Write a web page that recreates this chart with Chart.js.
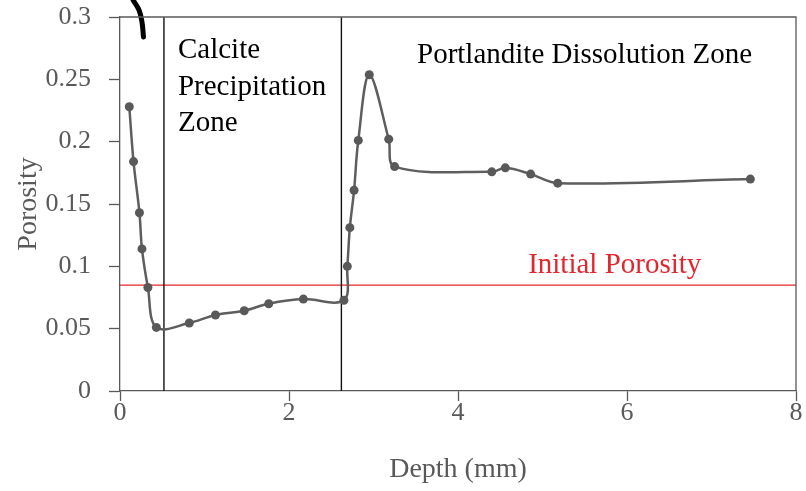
<!DOCTYPE html>
<html>
<head>
<meta charset="utf-8">
<script src="https://cdn.jsdelivr.net/npm/chart.js@4"></script>
<style>
  html, body { margin: 0; padding: 0; background: #fff; }
  #wrap { width: 806px; height: 491px; }
</style>
</head>
<body>
<div id="wrap"><canvas id="porosityChart"></canvas></div>
<script>
// Porosity profile
const depth = [0.11, 0.16, 0.23, 0.26, 0.33, 0.43, 0.82, 1.13, 1.47, 1.76, 2.17, 2.65,
               2.69, 2.72, 2.77, 2.82, 2.95, 3.18, 3.25, 4.40, 4.56, 4.86, 5.18, 7.46];
const porosity = [0.228, 0.184, 0.143, 0.114, 0.083, 0.051, 0.0545, 0.061, 0.0644, 0.070, 0.0737, 0.0727,
                  0.100, 0.131, 0.161, 0.201, 0.2537, 0.202, 0.180, 0.1758, 0.179, 0.174, 0.1667, 0.170];

const zoneBoundaries = [0.52, 2.62];
const initialPorosity = 0.085;

// hand-drawn stroke at the top left of the figure
const strokeX = [0.154, 0.225, 0.26, 0.278];
const strokeY = [0.3137, 0.3056, 0.296, 0.284];

const xTickLabels = ['0', '2', '4', '6', '8'];
const yTickLabels = ['0', '0.05', '0.1', '0.15', '0.2', '0.25', '0.3'];

const GREY = '#595959';
const FONT = '"Liberation Serif", "DejaVu Serif", serif';

const toPoints = (xs, ys) => xs.map((x, i) => ({x: x, y: ys[i]}));

const datasets = [];

datasets.push({
  label: 'Porosity',
  data: toPoints(depth, porosity),
  showLine: true,
  borderColor: '#5e5e5e',
  backgroundColor: GREY,
  borderWidth: 2.5,
  pointRadius: 4.5,
  pointBorderWidth: 0,
  tension: 0.35
});

zoneBoundaries.forEach(b => {
  datasets.push({
    label: 'zone',
    data: [{x: b, y: 0}, {x: b, y: 0.3}],
    showLine: true,
    borderColor: '#111',
    borderWidth: 1.4,
    pointRadius: 0
  });
});

datasets.push({
  label: 'Initial Porosity',
  data: [{x: 0, y: initialPorosity}, {x: 8, y: initialPorosity}],
  showLine: true,
  borderColor: '#e3262e',
  borderWidth: 1.3,
  pointRadius: 0
});

datasets.push({
  label: 'stroke',
  data: toPoints(strokeX, strokeY),
  showLine: true,
  borderColor: '#000',
  borderWidth: 5,
  borderCapStyle: 'round',
  pointRadius: 0,
  tension: 0.4,
  clip: false
});

// frame on top / right + zone captions
const decorations = {
  id: 'decorations',
  afterDatasetsDraw(chart) {
    const {ctx, chartArea: a, scales: {x, y}} = chart;
    ctx.save();
    ctx.strokeStyle = GREY;
    ctx.lineWidth = 1.3;
    ctx.beginPath();
    ctx.moveTo(a.left, a.top);
    ctx.lineTo(a.right, a.top);
    ctx.lineTo(a.right, a.bottom);
    ctx.stroke();

    ctx.font = '29px ' + FONT;
    ctx.textAlign = 'left';
    ctx.textBaseline = 'alphabetic';
    ctx.fillStyle = '#000';
    ['Calcite', 'Precipitation', 'Zone'].forEach((t, i) => {
      ctx.fillText(t, x.getPixelForValue(0.686), y.getPixelForValue(0.267) + i * 36.5);
    });
    ctx.fillText('Portlandite Dissolution Zone', x.getPixelForValue(3.515), y.getPixelForValue(0.263));
    ctx.fillStyle = '#e3262e';
    ctx.fillText('Initial Porosity', x.getPixelForValue(4.83), y.getPixelForValue(0.095));
    ctx.restore();
  }
};

new Chart(document.getElementById('porosityChart'), {
  type: 'scatter',
  data: { datasets: datasets },
  options: {
    responsive: true,
    maintainAspectRatio: false,
    animation: false,
    layout: { padding: { top: 17, right: 10, left: 0, bottom: 0 } },
    plugins: { legend: { display: false }, tooltip: { enabled: false } },
    scales: {
      x: {
        type: 'linear',
        min: 0, max: 8,
        afterFit: s => { s.height = 100; s.paddingLeft = 0; s.paddingRight = 0; },
        ticks: {
          stepSize: 2,
          color: GREY,
          font: { family: FONT, size: 26 },
          padding: -3,
          callback: (v, i) => xTickLabels[i]
        },
        grid: { drawOnChartArea: false, tickLength: 10, color: GREY, tickWidth: 1.3 },
        border: { color: GREY, width: 1.3 },
        title: {
          display: true,
          text: 'Depth (mm)',
          color: GREY,
          font: { family: FONT, size: 28 },
          padding: { top: 0, bottom: 5 }
        }
      },
      y: {
        min: 0, max: 0.3,
        afterFit: s => { s.width = 120; s.paddingTop = 0; s.paddingBottom = 0; },
        ticks: {
          stepSize: 0.05,
          color: GREY,
          font: { family: FONT, size: 26 },
          padding: 18,
          callback: (v, i) => yTickLabels[i]
        },
        grid: { drawOnChartArea: false, tickLength: 11, color: GREY, tickWidth: 1.3 },
        border: { color: GREY, width: 1.3 },
        title: {
          display: true,
          text: 'Porosity',
          color: GREY,
          font: { family: FONT, size: 28 },
          padding: { top: 12, bottom: 0 }
        }
      }
    }
  },
  plugins: [decorations]
});
</script>
</body>
</html>
